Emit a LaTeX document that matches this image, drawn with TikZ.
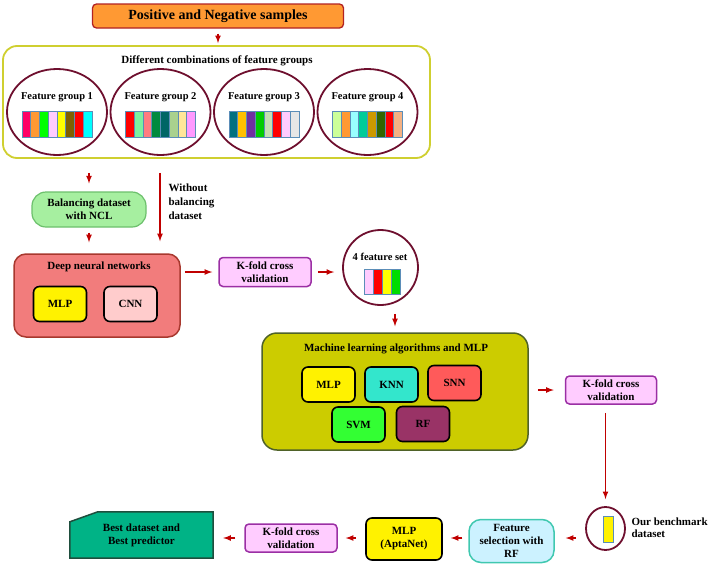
\documentclass[tikz,border=0pt]{standalone}
\usepackage{fontspec}
\setmainfont{Liberation Serif}
\usetikzlibrary{positioning,arrows,shapes,backgrounds}
\definecolor{samplesfill}{HTML}{FF9933}
\definecolor{samplesline}{HTML}{B22222}
\definecolor{combline}{HTML}{CFCF30}
\definecolor{ringcol}{HTML}{6E0F2E}
\definecolor{barline}{HTML}{5B8DB8}
\definecolor{balfill}{HTML}{A6EFA0}
\definecolor{balline}{HTML}{6CC06C}
\definecolor{dnnfill}{HTML}{F27C7C}
\definecolor{dnnline}{HTML}{A8382E}
\definecolor{cnnfill}{HTML}{FFCCCC}
\definecolor{kfoldfill}{HTML}{FFCCFF}
\definecolor{kfoldline}{HTML}{9B2FA4}
\definecolor{mlfill}{HTML}{CCCC00}
\definecolor{mlline}{HTML}{4F6228}
\definecolor{knnfill}{HTML}{33E6CC}
\definecolor{snnfill}{HTML}{FF5A5A}
\definecolor{svmfill}{HTML}{33FF33}
\definecolor{rffill}{HTML}{993366}
\definecolor{fselfill}{HTML}{CCF2FF}
\definecolor{fselline}{HTML}{40C8B0}
\definecolor{bestfill}{HTML}{00B386}
\definecolor{bestline}{HTML}{1F4E3D}
\definecolor{linkred}{HTML}{C00000}
\tikzset{
  block/.style = {shape=rectangle, rounded corners=4pt, draw, align=center, inner sep=2pt},
  algo/.style  = {block, draw=black, line width=1.6pt, rounded corners=6pt,
                  minimum width=53pt, minimum height=35pt},
  kfold/.style = {block, fill=kfoldfill, draw=kfoldline, line width=1.5pt,
                  minimum width=92pt, minimum height=29pt},
  ring/.style  = {ellipse, draw=ringcol, line width=1.8pt, inner sep=0pt},
  link/.style  = {draw=linkred, line width=1.6pt, -latex},
}

\begin{document}
\begin{tikzpicture}[
        x = 1pt, y = -1pt,
        every node/.style = {font=\bfseries\fontsize{11}{13}\selectfont},
    ]
    \useasboundingbox (0,0) rectangle (709,568);

    % input and feature groups
    \node [block, fill=samplesfill, draw=samplesline, line width=1.3pt,
           minimum width=251pt, minimum height=24pt,
           font=\bfseries\fontsize{14}{16}\selectfont] (samples) at (218,16) {Positive and Negative samples};
    \node [block, draw=combline, line width=1.8pt, rounded corners=14pt,
           minimum width=427pt, minimum height=112pt] (comb) at (216.5,102) {};
    \node (combtitle) at (217,61) {Different combinations of feature groups};
    \foreach \g/\gx/\cols in {
        1/57/{FF0066,FF9933,00FF00,FFCCFF,FFFF00,7F6000,FF0000,00FFFF},
        2/160.5/{FF0000,7CF0A0,FF7C80,008A3E,006666,A9D18E,FFE699,FF99FF},
        3/264/{00707F,FFC000,7030A0,00CC00,C5E0B4,FF0000,FFCCFF,E7E6E6},
        4/367.5/{CCFF99,FF9933,99FFFF,00CC99,CC9900,336600,FF0000,F4B183}}{
      \node [ring, minimum width=100pt, minimum height=86pt] (grp\g) at (\gx,112) {};
      \node [font=\bfseries\fontsize{10.5}{12}\selectfont] (grplbl\g) at (\gx,97) {Feature group \g};
      \foreach \c [count=\k] in \cols {
        \edef\tmpcol{\noexpand\definecolor{stripe}{HTML}{\c}}\tmpcol
        \filldraw [fill=stripe, draw=barline, line width=0.6pt]
          ({\gx-35+(\k-1)*8.75},111) rectangle ++(8.75,26);
      }
    }
    \draw [link, shorten <=5pt, shorten >=2pt] (samples.south) -- (samples.south |- comb.north);

    % balancing and deep networks
    \node [block, fill=balfill, draw=balline, line width=1.2pt, rounded corners=14pt,
           minimum width=114pt, minimum height=35pt] (ncl) at (89,209.5) {Balancing dataset\\with NCL};
    \node [align=left, anchor=north west, font=\bfseries\fontsize{11}{14}\selectfont]
          (nobal) at (165,180) {Without\\balancing\\dataset};
    \coordinate (wo) at (160,0);
    \node [block, fill=dnnfill, draw=dnnline, line width=1.5pt, rounded corners=12pt,
           minimum width=166pt, minimum height=83pt] (dnn) at (97,295.5) {};
    \node (dnntitle) at (99,267) {Deep neural networks};
    \node [algo, fill=yellow] (dnnmlp) at (60,304) {MLP};
    \node [algo, fill=cnnfill] (cnn) at (130.5,304) {CNN};
    \draw [link, shorten <=14pt, shorten >=8pt] (comb.south -| ncl) -- (ncl.north);
    \draw [link, shorten <=5pt, shorten >=11pt] (ncl.south) -- (ncl.south |- dnn.north);
    \draw [link, shorten <=14pt, shorten >=12pt] (wo |- comb.south) -- (wo |- dnn.north);

    % first validation and feature set
    \node [kfold] (kfold1) at (265,272) {K-fold cross\\validation};
    \node [ring, minimum size=75pt] (fourset) at (380.5,267.5) {};
    \node [font=\bfseries\fontsize{10.5}{12}\selectfont] (fstitle) at (380,257) {4 feature set};
    \foreach \c [count=\k] in {FFCCFF,FF0000,FFFF00,00DD00} {
      \edef\tmpcol{\noexpand\definecolor{stripe}{HTML}{\c}}\tmpcol
      \filldraw [fill=stripe, draw=barline, line width=0.6pt]
        ({364+(\k-1)*9},269) rectangle ++(9,25);
    }
    \draw [link, shorten <=4pt, shorten >=6pt] (kfold1.west -| dnn.east) -- (kfold1.west);
    \draw [link, shorten <=6pt, shorten >=8pt] (kfold1.east) -- (kfold1.east -| fourset.west);

    % machine learning block
    \node [block, fill=mlfill, draw=mlline, line width=1.5pt, rounded corners=15pt,
           minimum width=266pt, minimum height=117pt] (ml) at (395,391.5) {};
    \node (mltitle) at (396,349) {Machine learning algorithms and MLP};
    \node [algo, fill=yellow] (mlmlp) at (328.5,384.5) {MLP};
    \node [algo, fill=knnfill] (knn) at (391.5,384.5) {KNN};
    \node [algo, fill=snnfill] (snn) at (454.5,383) {SNN};
    \node [algo, fill=svmfill] (svm) at (358.5,424.5) {SVM};
    \node [algo, fill=rffill] (rf) at (423,424) {RF};
    \draw [link, shorten <=8pt, shorten >=6pt] (fourset.south -| ml) -- (ml.north);
    \node [kfold, minimum width=91pt, minimum height=28pt] (kfold2) at (611,390) {K-fold cross\\validation};
    \draw [link, shorten <=9pt, shorten >=11pt] (ml.east |- kfold2.west) -- (kfold2.west);

    % benchmark and final steps
    \node [ring, minimum width=39pt, minimum height=43pt] (bench) at (605.5,528.5) {};
    \filldraw [fill=yellow, draw=barline, line width=0.6pt] (603,516) rectangle (613,542);
    \node [align=left, anchor=west, font=\bfseries\fontsize{11}{12}\selectfont]
          (benchtxt) at (628,528) {Our benchmark\\dataset};
    \draw [link, shorten <=8pt, shorten >=7pt] (bench.north |- kfold2.south) -- (bench.north);

    \node [block, fill=fselfill, draw=fselline, line width=1.5pt, rounded corners=12pt,
           minimum width=85pt, minimum height=43pt] (fsel) at (511.5,541) {Feature\\selection with\\RF};
    \node [algo, fill=yellow, minimum width=76pt, minimum height=42pt] (apta) at (404,539) {MLP\\(AptaNet)};
    \node [kfold, minimum width=92pt, minimum height=28pt] (kfold3) at (291,538) {K-fold cross\\validation};
    \node [minimum width=143pt, minimum height=46pt, align=center] (best) at (141.5,535) {Best dataset and\\Best predictor};
    \begin{scope}[on background layer]
      \filldraw [fill=bestfill, draw=bestline, line width=1.5pt]
        (best.south west) -- ([yshift=-10pt]best.north west) -- ([xshift=28pt]best.north west)
        -- (best.north east) -- (best.south east) -- cycle;
    \end{scope}
    \draw [link, shorten <=9pt, shorten >=11pt] (bench.west |- kfold3) -- (fsel.east |- kfold3);
    \draw [link, shorten <=6pt, shorten >=8pt] (fsel.west |- kfold3) -- (apta.east |- kfold3);
    \draw [link, shorten <=9pt, shorten >=8pt] (apta.west |- kfold3) -- (kfold3.east);
    \draw [link, shorten <=9pt, shorten >=10pt] (kfold3.west) -- (best.east |- kfold3);
\end{tikzpicture}
\end{document}
